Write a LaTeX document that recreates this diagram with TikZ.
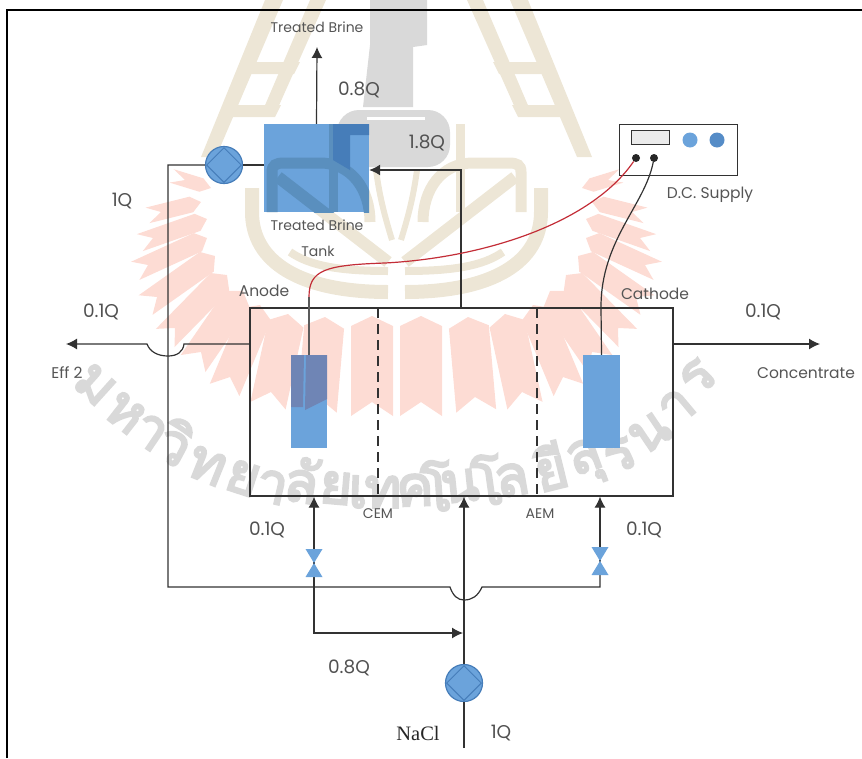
\documentclass[tikz,border=0pt]{standalone}
\usepackage{fontspec}
\usepackage{xcolor}
\usetikzlibrary{shapes.geometric, arrows.meta, positioning, calc}
\setmainfont{Poppins}
\newfontfamily\thaifont[Script=Thai,FakeBold=4]{Loma}
\newfontfamily\nacifont{Liberation Serif}
\definecolor{tankblue}{RGB}{107,163,219}
\definecolor{tankdark}{RGB}{90,143,190}
\definecolor{figuredark}{RGB}{70,125,185}
\definecolor{anodedark}{RGB}{111,133,181}
\definecolor{pumpedge}{RGB}{70,125,185}
\definecolor{pipegray}{RGB}{50,50,50}
\definecolor{wirered}{RGB}{195,45,55}
\definecolor{sealred}{RGB}{253,220,212}
\definecolor{sealtan}{RGB}{237,230,214}
\definecolor{sealgray}{RGB}{217,217,217}
\definecolor{labelgray}{RGB}{85,85,85}
\tikzset{
    pipe/.style={draw=pipegray, line width=1.2pt},
    flow/.style={pipe, -{Latex[length=11pt,width=11pt]}},
    bluebox/.style={fill=tankblue, draw=none, inner sep=0pt, minimum width=#1},
    pumpnode/.style={circle, fill=tankblue, draw=pumpedge, line width=1.2pt, minimum size=37pt, inner sep=0pt},
    pumpface/.style={diamond, draw=pumpedge, line width=1pt, minimum size=35pt, inner sep=0pt},
    qlabel/.style={font=\fontsize{18.5}{20}\selectfont, text=pipegray!85},
    smalllabel/.style={font=\fontsize{14}{16}\selectfont, text=labelgray},
    thaimark/.style={font=\thaifont\fontsize{56}{56}\selectfont, text=sealgray, inner sep=0pt}
}
% one half of the seal, the other half is its mirror image
\newcommand{\sealhalf}{
    \fill (265,0) -- (283,0) -- (216,157) -- (201,157) -- cycle;
    \fill (310,0) -- (326,0) -- (277,110) -- (263,110) -- cycle;
    \fill (246,62) -- (300,62) -- (294,74) -- (241,74) -- cycle;
    \fill (227,105) -- (281,105) -- (275,117) -- (222,117) -- cycle;
    \draw[line width=14pt] (252,188) -- (252,212) .. controls (252,262) and (300,292) .. (388,292);
    \draw[line width=8pt] (290,252) .. controls (310,266) and (340,271) .. (388,271);
    \draw[line width=11pt] (272,212) -- (272,172) .. controls (272,165) and (276,163) .. (284,163) -- (320,163)
        .. controls (352,163) and (370,190) .. (370,222);
    \draw[line width=12pt] (278,177) -- (388,262);
    \draw[line width=9pt] (333,124) -- (333,212);
    \draw[line width=6pt] (376,170) .. controls (380,200) and (386,220) .. (392,240);
}
\newcommand{\sealfan}{
    \foreach \tx/\ty/\nx/\ny/\w in {421/316/421/402/21, 468/317/475/397/20, 505/314/522/392/18, 533/305/563/377/16, 550/291/592/352/15, 566/275/618/328/13, 578/256/636/297/12, 586/238/645/265/10, 586/219/640/238/9, 592/202/632/212/8, 582/188/608/180/7}{
        \pgfmathsetmacro{\ang}{atan2(\ny-\ty,\nx-\tx)}
        \pgfmathsetmacro{\len}{veclen(\ny-\ty,\nx-\tx)}
        \fill[sealred, shift={(\tx,\ty)}, rotate=-\ang] (0,0) -- (10,\w) -- (\len+14,\w) -- (\len,0) -- (\len+14,-\w) -- (10,-\w) -- cycle;
    }
}
\newcommand{\sealfigure}{
    \fill (370,0) -- (427,0) -- (427,45) -- (413,47) -- (413,107) -- (363,107) -- (370,45) -- cycle;
    \fill[rounded corners=22pt] (337,110) -- (450,110) -- (450,167) -- (337,167) -- cycle;
}
\newcommand{\valve}[1]{
    \fill[tankblue] ($(#1)+(-8.5,-14)$) -- ($(#1)+(8.5,-14)$) -- ($(#1)+(-8.5,14)$) -- ($(#1)+(8.5,14)$) -- cycle;
}
\begin{document}
\begin{tikzpicture}[x=1pt, y=-1pt]
    \useasboundingbox (0,0) rectangle (862,758);

    % watermark
    \sealfan
    \begin{scope}[xscale=-1, xshift=-793]
        \sealfan
    \end{scope}
    \begin{scope}[color=sealtan]
        \sealhalf
        \begin{scope}[xscale=-1, xshift=-793]
            \sealhalf
        \end{scope}
    \end{scope}
    \begin{scope}[color=sealgray]
        \sealfigure
    \end{scope}
    \fill[white] (367,116.5) rectangle (425,120);
    \foreach \mk/\x/\y/\r [count=\i] in {ม/95/385/-42, ห/125/413/-38, า/150/432/-34, วิ/176/442/-28, ท/207/466/-22, ย/243/478/-18, า/272/487/-13, ลั/302/480/-9, ย/336/488/-5, เ/358/492/-2, ท/383/492/0, ค/415/490/2, โ/436/486/4, น/460/486/6, โ/487/480/8, ล/512/480/10, ยี/550/466/14, สุ/587/462/20, ร/620/455/26, น/650/433/34, า/677/407/40, ร/698/377/46}{
        \node[thaimark, rotate=\r] (mark\i) at (\x,\y) {\mk};
    }

    % tank and cell
    \node[bluebox=105pt, minimum height=88pt] (tank) at (316.5,168) {};
    \begin{scope}
        \clip (264,124) rectangle (369,212);
        \begin{scope}[color=tankdark]
            \sealhalf
        \end{scope}
        \fill[figuredark] (333,124) -- (369,124) -- (369,135) -- (350,135) -- (350,170) -- (333,160) -- cycle;
    \end{scope}
    \node[draw=pipegray, line width=1.2pt, minimum width=423pt, minimum height=188pt, inner sep=0pt] (cell) at (461.5,402) {};
    \node[bluebox=36pt, minimum height=93pt] (anode) at (309,401.5) {};
    \fill[anodedark] (291,355) -- (304,355) -- (303,407) -- (291,407) -- cycle;
    \fill[anodedark] (306,355) -- (327,355) -- (327,399) -- (305,410) -- cycle;
    \node[bluebox=37pt, minimum height=93pt] (cathode) at (601.5,401.5) {};
    \draw[pipegray, line width=1.1pt, dashed, dash pattern=on 10pt off 6pt] (378,308) -- (378,496);
    \draw[pipegray, line width=1.1pt, dashed, dash pattern=on 10pt off 6pt] (537,308) -- (537,496);

    % d.c. supply
    \node[draw=pipegray, line width=1pt, minimum width=118pt, minimum height=51pt, inner sep=0pt] (supply) at (678,149.5) {};
    \node[draw=pipegray, fill=black!8, line width=.8pt, minimum width=38pt, minimum height=14pt, inner sep=0pt] (display) at (650,137) {};
    \node[circle, fill=tankblue, minimum size=15pt, inner sep=0pt] (lampa) at (690,140) {};
    \node[circle, fill=figuredark!60!tankblue, minimum size=15pt, inner sep=0pt] (lampb) at (717,140) {};
    \node[circle, fill=black!85, minimum size=8pt, inner sep=0pt] (plusdot) at (636,158) {};
    \node[circle, fill=black!85, minimum size=8pt, inner sep=0pt] (minusdot) at (654,158) {};

    % pumps and valves
    \node[pumpnode] (pumptop) at (224,165) {};
    \node[pumpface] at (pumptop) (pumptopface) {};
    \node[pumpnode] (pumpfeed) at (464,683) {};
    \node[pumpface] at (pumpfeed) (pumpfeedface) {};
    \coordinate (valveleft) at (314,563);
    \coordinate (valveright) at (600,561);

    % free ends of the pipes
    \coordinate (brineout) at (317,47);
    \coordinate (effout) at (66,344);
    \coordinate (concout) at (820,344);
    \coordinate (feedin) at (464,748);
    \coordinate (redstart) at (309,297);
    \coordinate (leftbump) at (168,587);
    \coordinate (tankin) at (461,170);
    \coordinate (splitin) at (463,633);

    % pipes
    \draw[flow] (tank.north) -- (brineout);
    \draw[flow] (cell.north -| tankin) -- (tankin) -- (tank.east |- tankin);
    \draw[pipe] (tank.west |- pumptop) -- (pumptop.east);
    \draw[pipe] (pumptop.west) -- (leftbump |- pumptop) -- (leftbump) -- (450,587)
        .. controls (453,596) and (458,600) .. (464,600) .. controls (472,600) and (478,596) .. (482,587) -- (600,587) -- (valveright);
    \draw[flow] (valveright) -- (cell.south -| valveright);
    \draw[flow] (cell.west |- effout) -- (184,344) .. controls (183,352) and (177,356) .. (168,356)
        .. controls (158,356) and (150,352) .. (147,344) -- (effout);
    \draw[flow] (cell.east |- concout) -- (concout);
    \draw[flow] (pumpfeed.north) -- (cell.south -| pumpfeed);
    \draw[pipe] (feedin) -- (pumpfeed.south);
    \draw[flow] (valveleft) -- (cell.south -| valveleft);
    \draw[flow] (valveleft) -- (valveleft |- splitin) -- (splitin);
    \valve{valveleft}
    \valve{valveright}

    % wires
    \draw[pipegray!80, line width=1.2pt] (anode.north) -- (redstart);
    \draw[wirered, line width=1.2pt] (redstart) .. controls (309,270) and (325,265) .. (385,263)
        .. controls (480,258) and (590,225) .. (plusdot);
    \draw[pipegray, line width=1.2pt] (cathode.north) -- (601,307) .. controls (601,240) and (645,205) .. (minusdot);

    % labels
    \node[smalllabel] (brinelabel) at (317,27) {Treated Brine};
    \node[smalllabel] (tanklabel) at (317,225) {Treated Brine};
    \node[smalllabel] (tanklabelb) at (318,251) {Tank};
    \node[smalllabel, font=\fontsize{15.5}{17}\selectfont] (anodelabel) at (264,291) {Anode};
    \node[smalllabel, font=\fontsize{15.5}{17}\selectfont] (cathodelabel) at (655,294) {Cathode};
    \node[smalllabel, font=\fontsize{15.5}{17}\selectfont] (effnote) at (67,373) {Eff 2};
    \node[smalllabel, font=\fontsize{15.5}{17}\selectfont] (concnote) at (806,373) {Concentrate};
    \node[smalllabel, font=\fontsize{15.5}{17}\selectfont] (supplylabel) at (710,195) {D.C. Supply};
    \node[smalllabel] (cemlabel) at (378,514) {CEM};
    \node[smalllabel] (aemlabel) at (540,514) {AEM};
    \node[qlabel] (qbrine) at (359,90) {0.8Q};
    \node[qlabel] (qreturn) at (427,143) {1.8Q};
    \node[qlabel] (qpump) at (122,201) {1Q};
    \node[qlabel] (qeff) at (101,312) {0.1Q};
    \node[qlabel] (qconc) at (763,312) {0.1Q};
    \node[qlabel] (qanode) at (267,530) {0.1Q};
    \node[qlabel] (qcathode) at (644,530) {0.1Q};
    \node[qlabel] (qsplit) at (349,668) {0.8Q};
    \node[qlabel] (qfeed) at (501,733) {1Q};
    \node[font=\nacifont\fontsize{20.5}{22}\selectfont, text=black!85] (nacllabel) at (418,733) {NaCl};

    % frame
    \draw[black, line width=2.4pt] (7,758) -- (7,10) -- (862,10);
\end{tikzpicture}
\end{document}
